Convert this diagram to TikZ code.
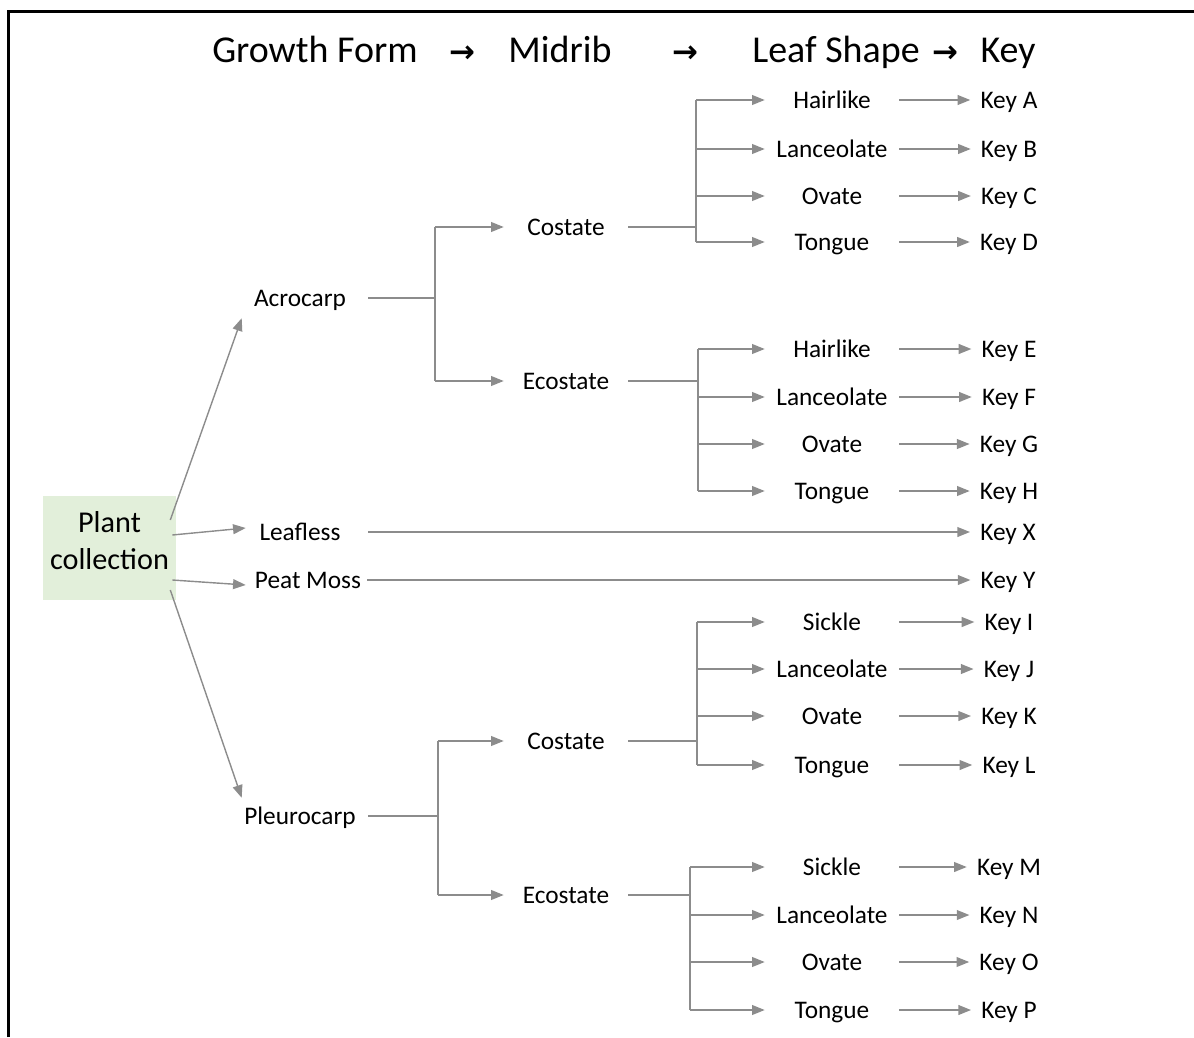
\documentclass[tikz,border=0pt]{standalone}
\usepackage{fontspec}
\setmainfont{Carlito}
\newfontfamily\arrowfont{DejaVu Sans}
\usetikzlibrary{arrows.meta}
\definecolor{linegray}{RGB}{140,140,140}
\definecolor{plantgreen}{RGB}{226,239,218}

\begin{document}
\begin{tikzpicture}[x=0.025cm, y=-0.025cm, >={Triangle[length=9pt,width=7pt]},
    lbl/.style={font=\fontsize{18}{20}\selectfont, inner sep=0pt, text height=15pt, text depth=3.4pt},
    titletext/.style={font=\fontsize{27}{30}\selectfont, inner sep=0pt, text height=22.4pt, text depth=5pt},
    headarrow/.style={titletext, font=\arrowfont\bfseries\fontsize{22}{26}\selectfont},
    plantbox/.style={fill=plantgreen, minimum width=3.325cm, minimum height=2.6cm, align=center, text depth=11pt, font=\fontsize{21.5}{26}\selectfont},
    formbox/.style={lbl, minimum width=3.4cm},
    midbox/.style={lbl, minimum width=3.1cm},
    leafbox/.style={lbl, minimum width=3.35cm},
    keybox/.style={lbl, inner xsep=0.25cm},
    conn/.style={draw=linegray, line width=1pt},
    arr/.style={conn, ->}]
	\useasboundingbox (0,0) rectangle (1194,1037);
	% frame
	\draw[line width=1.5pt] (8.5,1037) -- (8.5,11.5) -- (1194,11.5);
	
	% heading
	\node[titletext] (hgrowth) at (315,50) {Growth Form};
	\node[headarrow] (harr1) at (462,50) {→};
	\node[titletext] (hmidrib) at (560,50) {Midrib};
	\node[headarrow] (harr2) at (685,50) {→};
	\node[titletext] (hshape) at (836,50) {Leaf Shape};
	\node[headarrow] (harr3) at (945,50) {→};
	\node[titletext] (hkey) at (1008,50) {Key};
	
	% growth form
	\node[plantbox] (plant) at (109.5,548) {Plant\\collection};
	\node[formbox] (acro) at (300,298) {Acrocarp};
	\node[formbox] (leafless) at (300,532) {Leafless};
	\node[formbox, minimum width=2.95cm] (peat) at (308,580) {Peat Moss};
	\node[formbox] (pleuro) at (300,816) {Pleurocarp};
	
	\draw[arr] ([shift={(-6,-28)}]plant.east) -- ([shift={(10,7)}]acro.south west);
	\draw[arr] ([shift={(-4,-13)}]plant.east) -- ([shift={(14,-4)}]leafless.west);
	\draw[arr] ([shift={(-4,32)}]plant.east) -- ([shift={(-3,5)}]peat.west);
	\draw[arr] ([shift={(-6,42)}]plant.east) -- ([shift={(10,-5)}]pleuro.north west);
	
	% leafless and peat moss go straight to a key
	\node[keybox] (kx) at (1008,532) {Key X};
	\node[keybox] (ky) at (1008,580) {Key Y};
	\draw[arr] (leafless) -- (kx);
	\draw[arr] (peat) -- (ky);
	
	% midrib
	\node[midbox] (costA) at (566,227) {Costate};
	\node[midbox] (ecostA) at (566,381) {Ecostate};
	\node[midbox] (costP) at (566,741) {Costate};
	\node[midbox] (ecostP) at (566,895) {Ecostate};
	
	\coordinate (jA) at (435,298);
	\coordinate (jP) at (438,816);
	\draw[conn] (acro) -- (jA);
	\draw[conn] (jA |- costA) -- (jA |- ecostA);
	\draw[arr] (jA |- costA) -- (costA);
	\draw[arr] (jA |- ecostA) -- (ecostA);
	\draw[conn] (pleuro) -- (jP);
	\draw[conn] (jP |- costP) -- (jP |- ecostP);
	\draw[arr] (jP |- costP) -- (costP);
	\draw[arr] (jP |- ecostP) -- (ecostP);
	
	% leaf shape and key
	\coordinate (jac) at (696,227);
	\coordinate (jae) at (698,381);
	\coordinate (jpc) at (697,741);
	\coordinate (jpe) at (690,895);
	
	\foreach \n/\s/\k/\y in {1/Hairlike/A/100, 2/Lanceolate/B/149, 3/Ovate/C/196, 4/Tongue/D/242} {
		\node[leafbox] (ac\n) at (832,\y) {\s};
		\node[keybox] (kac\n) at (1009,\y) {Key \k};
		\draw[arr] (jac |- ac\n) -- (ac\n);
		\draw[arr] (ac\n) -- (kac\n);
	}
	\draw[conn] (costA) -- (jac);
	\draw[conn] (jac |- ac1) -- (jac |- ac4);
	
	\foreach \n/\s/\k/\y in {1/Hairlike/E/349, 2/Lanceolate/F/397, 3/Ovate/G/444, 4/Tongue/H/491} {
		\node[leafbox] (ae\n) at (832,\y) {\s};
		\node[keybox] (kae\n) at (1009,\y) {Key \k};
		\draw[arr] (jae |- ae\n) -- (ae\n);
		\draw[arr] (ae\n) -- (kae\n);
	}
	\draw[conn] (ecostA) -- (jae);
	\draw[conn] (jae |- ae1) -- (jae |- ae4);
	
	\foreach \n/\s/\k/\y in {1/Sickle/I/622, 2/Lanceolate/J/669, 3/Ovate/K/716, 4/Tongue/L/765} {
		\node[leafbox] (pc\n) at (832,\y) {\s};
		\node[keybox] (kpc\n) at (1009,\y) {Key \k};
		\draw[arr] (jpc |- pc\n) -- (pc\n);
		\draw[arr] (pc\n) -- (kpc\n);
	}
	\draw[conn] (costP) -- (jpc);
	\draw[conn] (jpc |- pc1) -- (jpc |- pc4);
	
	\foreach \n/\s/\k/\y in {1/Sickle/M/867, 2/Lanceolate/N/915, 3/Ovate/O/962, 4/Tongue/P/1010} {
		\node[leafbox] (pe\n) at (832,\y) {\s};
		\node[keybox] (kpe\n) at (1009,\y) {Key \k};
		\draw[arr] (jpe |- pe\n) -- (pe\n);
		\draw[arr] (pe\n) -- (kpe\n);
	}
	\draw[conn] (ecostP) -- (jpe);
	\draw[conn] (jpe |- pe1) -- (jpe |- pe4);
\end{tikzpicture}
\end{document}
